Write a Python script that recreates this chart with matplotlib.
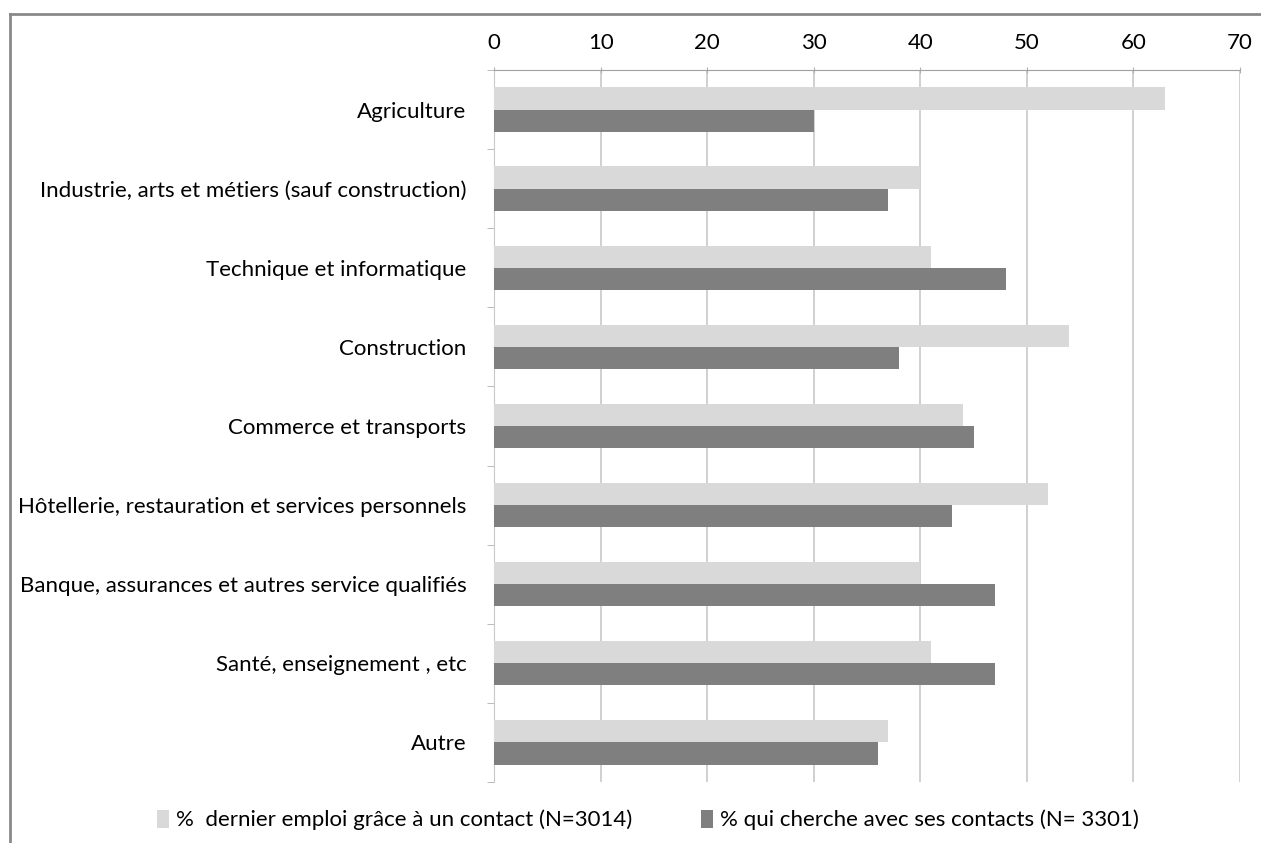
import matplotlib.pyplot as plt
import numpy as np

categories = ["Agriculture",
              "Industrie, arts et métiers (sauf construction)",
              "Technique et informatique",
              "Construction",
              "Commerce et transports",
              "Hôtellerie, restauration et services personnels",
              "Banque, assurances et autres service qualifiés",
              "Santé, enseignement , etc",
              "Autre"]
dernier_emploi = [63, 40, 41, 54, 44, 52, 40, 41, 37]
cherche_contacts = [30, 37, 48, 38, 45, 43, 47, 47, 36]
labels = ["%  dernier emploi grâce à un contact (N=3014)",
          "% qui cherche avec ses contacts (N= 3301)"]

plt.rcParams['font.family'] = ['Lato', 'DejaVu Sans']

fig = plt.figure(figsize=(12.61, 8.43), dpi=100)
ax = fig.add_axes([0.3918, 0.0724, 0.5915, 0.8446])

y = np.arange(len(categories))
h = 0.28
ax.barh(y - h / 2, dernier_emploi, height=h, color='#d9d9d9', label=labels[0], zorder=3)
ax.barh(y + h / 2, cherche_contacts, height=h, color='#7f7f7f', label=labels[1], zorder=3)

ax.set_xlim(0, 70)
ax.set_ylim(len(categories) - 0.5, -0.5)
ax.set_xticks(range(0, 71, 10))
ax.xaxis.tick_top()
ax.set_yticks(y)
ax.set_yticklabels(categories, fontsize=16)
ax.set_yticks(np.arange(-0.5, len(categories), 1), minor=True)
ax.tick_params(axis='y', which='major', length=0, pad=20)
ax.tick_params(axis='y', which='minor', length=5, color='#b0b0b0')
ax.tick_params(axis='x', length=5, direction='inout', color='#b0b0b0', labelsize=16, pad=10)
ax.grid(axis='x', color='#c8c8c8', linewidth=1.2, zorder=0)

for s in ['right', 'bottom']:
    ax.spines[s].set_visible(False)
ax.spines['top'].set_color('#a0a0a0')
ax.spines['left'].set_color('#c8c8c8')

fig.legend(loc='center left', bbox_to_anchor=(0.1085, 1 - 820 / 843), ncol=2, frameon=False,
           fontsize=16, handlelength=0.55, handleheight=0.9, handletextpad=0.3,
           columnspacing=3.1)

# bordure du graphique
fig.add_artist(plt.Line2D([10 / 1261, 10 / 1261], [0, 1 - 14 / 843], color='#8a8a8a', lw=2))
fig.add_artist(plt.Line2D([10 / 1261, 1], [1 - 14 / 843, 1 - 14 / 843], color='#8a8a8a', lw=2))

fig.savefig('out.png', dpi=100)
